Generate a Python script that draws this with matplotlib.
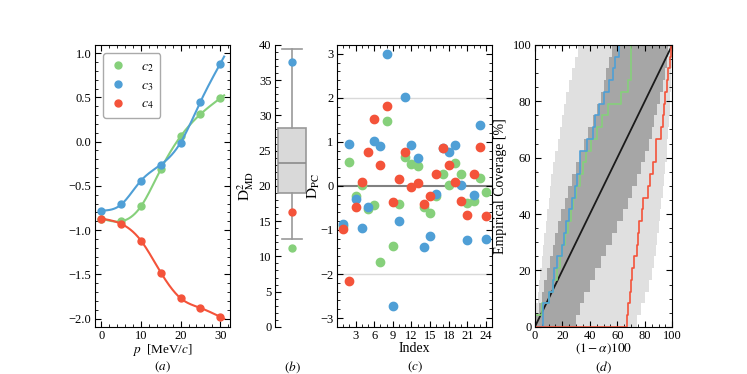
import numpy as np
import matplotlib
matplotlib.use("Agg")
import matplotlib.pyplot as plt
from matplotlib.ticker import AutoMinorLocator, MultipleLocator

plt.rcParams['font.family'] = ['Liberation Serif', 'DejaVu Serif']
plt.rcParams['mathtext.fontset'] = 'stix'
plt.rcParams['xtick.direction'] = 'in'
plt.rcParams['ytick.direction'] = 'in'
plt.rcParams['xtick.top'] = True
plt.rcParams['ytick.right'] = True
plt.rcParams['xtick.major.pad'] = 2
plt.rcParams['ytick.major.pad'] = 2.5
plt.rcParams['font.size'] = 9

green = '#86d07b'
blue = '#4f9fd6'
red = '#f4533a'

# (a) coefficients vs momentum
p_vals = [0, 5, 10, 15, 20, 25, 30]
c2 = [-0.87, -0.90, -0.73, -0.31, 0.06, 0.31, 0.49]
c3 = [-0.78, -0.71, -0.44, -0.26, -0.01, 0.45, 0.88]
c4 = [-0.87, -0.93, -1.12, -1.48, -1.77, -1.88, -1.98]

# (b) Mahalanobis distance box + points
box_stats = dict(med=23.3, q1=19.0, q3=28.2, whislo=12.4, whishi=39.4)
dmd = {'c2': 11.2, 'c3': 37.6, 'c4': 16.3}

# (c) principal component distances
index = list(range(1, 25))
dpc_c2 = [-0.92, 0.55, -0.22, 0.02, -0.52, -0.43, -1.73, 1.48, -1.36, -0.41, 0.65, 0.49,
          0.44, -0.47, -0.62, -0.23, 0.28, 0.01, 0.52, 0.27, -0.39, -0.35, 0.17, -0.14]
dpc_c3 = [-0.86, 0.94, -0.30, -0.96, -0.49, 1.02, 0.90, 3.00, -2.72, -0.79, 2.02, 0.92,
          0.64, -1.39, -1.14, -0.18, 0.85, 0.76, 0.92, 0.01, -1.23, -0.21, 1.38, -1.21]
dpc_c4 = [-0.98, -2.16, -0.47, 0.09, 0.76, 1.52, 0.47, 1.82, -0.37, 0.15, 0.77, -0.02,
          0.06, -0.41, -0.23, 0.27, 0.87, 0.48, 0.09, -0.35, -0.65, 0.27, 0.89, -0.68]

# (d) coverage: band levels and credibility levels of each test point
cov_levels = [0, 4.17, 8.33, 12.5, 16.67, 20.83, 25, 29.17, 33.33, 37.5, 41.67, 45.83, 50,
              54.17, 58.33, 62.5, 66.67, 70.83, 75, 79.17, 83.33, 87.5, 91.67, 95.83, 100]
band95_lo = [0, 1, 2, 3, 4, 5, 6, 7, 8, 9, 10, 11, 12, 13.5, 15, 16.5, 18, 19.5, 21, 23, 25,
             27, 29, 31.5, 34]
band68_lo = [1, 3, 5, 7, 9, 11, 13, 15, 17, 19, 22, 24, 27, 30, 33, 36, 39, 42, 45, 48, 50,
             52, 54, 56, 57]
band68_hi = [30, 33, 36, 40, 44, 48, 52, 56, 60, 64, 68, 71, 74, 77, 80, 83, 85, 87, 89, 91,
             93, 94.5, 96, 97, 98]
band95_hi = [74, 77, 80, 83, 85, 87, 88, 89, 90, 91, 92, 93, 94, 95, 96, 96.5, 97, 97.5, 98,
             98.5, 99, 99.3, 99.6, 99.8, 100]
cred_c2 = [0, 5, 10, 13, 16, 18, 20, 22, 24, 26, 28, 30, 33, 35, 37, 41, 45, 49, 53, 63,
           68, 70, 70, 70]
cred_c3 = [6, 6, 10, 13, 14, 16, 20, 21, 23, 25, 27, 29, 31, 33, 33, 38, 42, 44, 47, 50,
           54, 57, 58, 61]
cred_c4 = [67, 68, 69, 70, 71, 72, 74, 75, 76, 78, 79, 82, 84, 86, 88, 88, 92, 93, 94, 95,
           96, 97, 98, 99]


def natural_spline(x, y, xn):
    x = np.asarray(x, float)
    y = np.asarray(y, float)
    n = len(x)
    h = np.diff(x)
    A = np.zeros((n, n))
    b = np.zeros(n)
    A[0, 0] = A[-1, -1] = 1
    for i in range(1, n - 1):
        A[i, i - 1] = h[i - 1]
        A[i, i] = 2 * (h[i - 1] + h[i])
        A[i, i + 1] = h[i]
        b[i] = 3 * ((y[i + 1] - y[i]) / h[i] - (y[i] - y[i - 1]) / h[i - 1])
    c = np.linalg.solve(A, b)
    bc = (y[1:] - y[:-1]) / h - h * (2 * c[:-1] + c[1:]) / 3
    d = (c[1:] - c[:-1]) / (3 * h)
    idx = np.clip(np.searchsorted(x, xn) - 1, 0, n - 2)
    dx = xn - x[idx]
    return y[idx] + bc[idx] * dx + c[idx] * dx ** 2 + d[idx] * dx ** 3


fig = plt.figure(figsize=(7.47, 3.74), dpi=100)
ax_a = fig.add_axes([0.127, 0.126, 0.181, 0.754])
ax_b = fig.add_axes([0.368, 0.126, 0.046, 0.754])
ax_c = fig.add_axes([0.451, 0.126, 0.208, 0.754])
ax_d = fig.add_axes([0.716, 0.126, 0.184, 0.754])

# ---- (a)
pp = np.linspace(0, 31, 200)
for vals, col, lab in [(c2, green, '$c_2$'), (c3, blue, '$c_3$'), (c4, red, '$c_4$')]:
    ax_a.plot(pp, natural_spline(p_vals, vals, pp), color=col, lw=1.5)
    ax_a.plot(p_vals, vals, 'o', color=col, ms=5, label=lab)
ax_a.set_xlim(-1.67, 32.5)
ax_a.set_ylim(-2.094, 1.094)
ax_a.xaxis.set_major_locator(MultipleLocator(10))
ax_a.yaxis.set_major_locator(MultipleLocator(0.5))
ax_a.xaxis.set_minor_locator(AutoMinorLocator(5))
ax_a.yaxis.set_minor_locator(AutoMinorLocator(5))
ax_a.set_xlabel('$p$  [MeV/$c$]', fontsize=9.5, labelpad=0)
ax_a.legend(loc='upper left', fontsize=10, handlelength=1.2, handletextpad=1.0,
            borderpad=0.5, labelspacing=0.35, edgecolor='#aaaaaa', framealpha=1,
            borderaxespad=0.6)

# ---- (b)
bs = dict(box_stats)
ax_b.bxp([bs], positions=[0.5], widths=0.8, showfliers=False, patch_artist=True,
         capwidths=0.57,
         boxprops=dict(facecolor='#d9d9d9', edgecolor='#999999', lw=1.2),
         medianprops=dict(color='#8c8c8c', lw=1.2),
         whiskerprops=dict(color='#999999', lw=1.2),
         capprops=dict(color='#999999', lw=1.2))
ax_b.plot([0.5], [dmd['c2']], 'o', color=green, ms=5)
ax_b.plot([0.5], [dmd['c3']], 'o', color=blue, ms=5)
ax_b.plot([0.5], [dmd['c4']], 'o', color=red, ms=5)
ax_b.set_xlim(0, 1)
ax_b.set_ylim(0, 40)
for s in ['top', 'right', 'bottom']:
    ax_b.spines[s].set_visible(False)
ax_b.set_xticks([])
ax_b.tick_params(axis='x', top=False, bottom=False)
ax_b.yaxis.set_major_locator(MultipleLocator(5))
ax_b.yaxis.set_minor_locator(AutoMinorLocator(5))
ax_b.tick_params(axis='y', which='both', right=False)
ax_b.set_ylabel(r'$\mathrm{D}^2_{\mathrm{MD}}$', fontsize=11, labelpad=2)

# ---- (c)
ax_c.axhline(2, color='#d9d9d9', lw=1, zorder=0)
ax_c.axhline(-2, color='#d9d9d9', lw=1, zorder=0)
ax_c.axhline(0, color='#808080', lw=1.5, zorder=0)
ax_c.plot(index, dpc_c2, 'o', color=green, ms=6)
ax_c.plot(index, dpc_c3, 'o', color=blue, ms=6)
ax_c.plot(index, dpc_c4, 'o', color=red, ms=6)
ax_c.set_xlim(0, 25)
ax_c.set_ylim(-3.2, 3.2)
ax_c.set_xticks(index[2::3])
ax_c.xaxis.set_minor_locator(MultipleLocator(1))
ax_c.yaxis.set_major_locator(MultipleLocator(1))
ax_c.yaxis.set_minor_locator(AutoMinorLocator(5))
ax_c.set_xlabel('Index', fontsize=10, labelpad=0)
ax_c.set_ylabel(r'$\mathrm{D}_{\mathrm{PC}}$', fontsize=11, labelpad=-1)

# ---- (d)
ax_d.fill_betweenx(cov_levels, band95_lo, band95_hi, step='post', color='#e0e0e0', lw=0)
ax_d.fill_betweenx(cov_levels, band68_lo, band68_hi, step='post', color='#a6a6a6', lw=0)
ax_d.plot([0, 100], [0, 100], color='#1a1a1a', lw=1.3)
for cred, col in [(cred_c2, green), (cred_c3, blue), (cred_c4, red)]:
    xs = [0] + sorted(cred) + [100]
    ys = [0] + [100 * (i + 1) / len(cred) for i in range(len(cred))] + [100]
    ax_d.step(xs, ys, where='post', color=col, lw=1.2)
ax_d.set_xlim(0, 100)
ax_d.set_ylim(0, 100)
ax_d.xaxis.set_major_locator(MultipleLocator(20))
ax_d.yaxis.set_major_locator(MultipleLocator(20))
ax_d.xaxis.set_minor_locator(AutoMinorLocator(4))
ax_d.yaxis.set_minor_locator(AutoMinorLocator(4))
ax_d.set_xlabel(r'$(1-\alpha)100$', fontsize=9.5, labelpad=0)
ax_d.set_ylabel('Empirical Coverage [%]', fontsize=10)

for ax in [ax_a, ax_c, ax_d]:
    ax.tick_params(which='major', length=4)
    ax.tick_params(which='minor', length=2)
    ax.tick_params(which='both', top=True, right=True)
ax_b.tick_params(which='major', length=4)
ax_b.tick_params(which='minor', length=2)

for ax, lab in [(ax_a, '(a)'), (ax_b, '(b)'), (ax_c, '(c)'), (ax_d, '(d)')]:
    bb = ax.get_position()
    fig.text((bb.x0 + bb.x1) / 2, 1 - 367 / 374, '$' + lab + '$', ha='center', va='center',
             fontsize=9.5)

fig.savefig('out.png', dpi=100)
